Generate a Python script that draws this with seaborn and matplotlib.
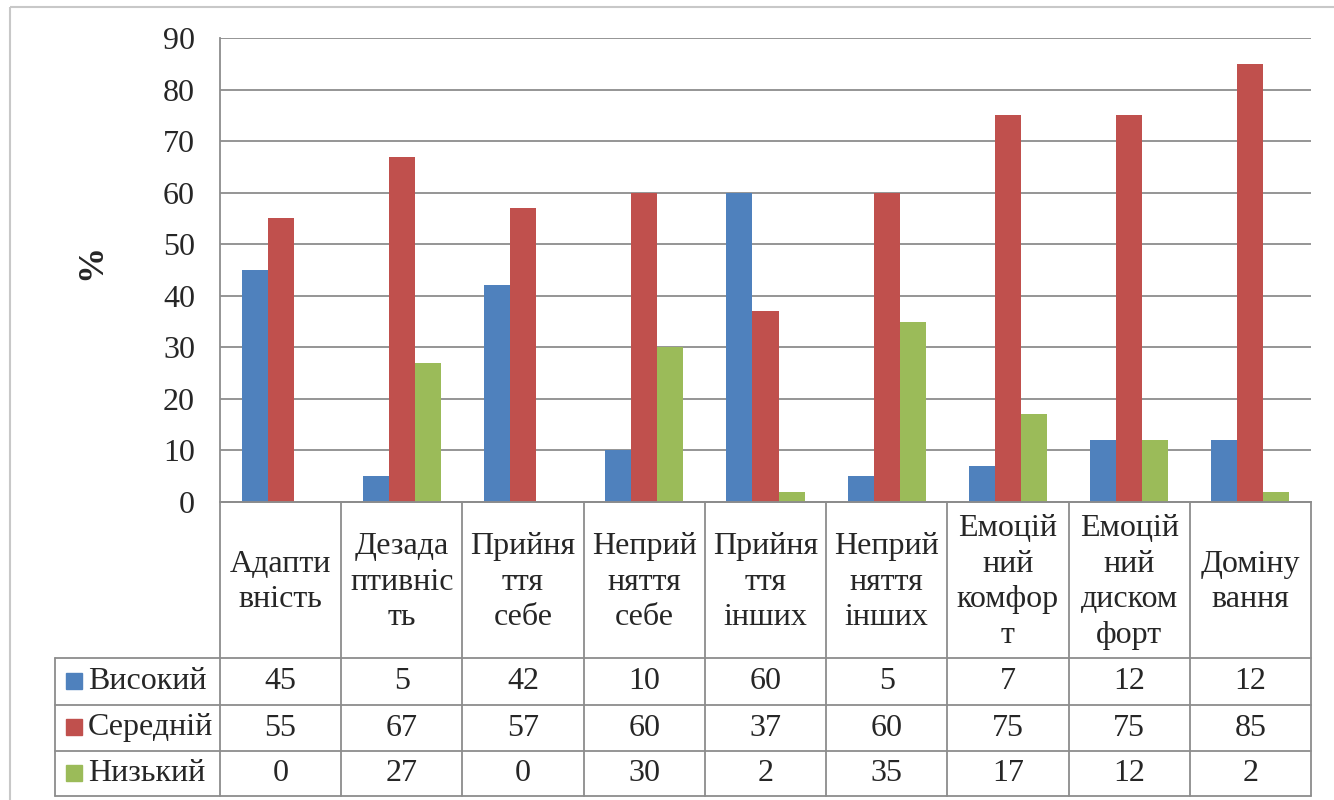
import matplotlib
matplotlib.use("Agg")
import matplotlib.pyplot as plt
import seaborn as sns
import pandas as pd
from matplotlib.patches import Rectangle

categories = ["Адапти\nвність", "Дезада\nптивніс\nть", "Прийня\nття\nсебе", "Неприй\nняття\nсебе",
              "Прийня\nття\nінших", "Неприй\nняття\nінших", "Емоцій\nний\nкомфор\nт",
              "Емоцій\nний\nдиском\nфорт", "Доміну\nвання"]
series_names = ["Високий", "Середній", "Низький"]
high = [45, 5, 42, 10, 60, 5, 7, 12, 12]
mid = [55, 67, 57, 60, 37, 60, 75, 75, 85]
low = [0, 27, 0, 30, 2, 35, 17, 12, 2]
colors = ["#4F81BD", "#C0504D", "#9BBB59"]
yticks = [0, 10, 20, 30, 40, 50, 60, 70, 80, 90]

sns.set_theme(style="white")
plt.rcParams['font.family'] = ['Liberation Serif', 'DejaVu Serif']

W, H = 1334, 800
fig = plt.figure(figsize=(W / 100, H / 100), dpi=100)

# layout (pixels)
L, R, T, B = 220, 1311, 38, 502
legL = 55
rows_y = [658, 705, 751, 796]
FS = 23
lc = "#8c8c8c"

# background axes for border + table
bg = fig.add_axes([0, 0, 1, 1])
bg.set_xlim(0, W)
bg.set_ylim(H, 0)
bg.axis("off")
bg.add_patch(Rectangle((10, 7), 1400, 900, fill=False, edgecolor="#c8c8c8", lw=1.5))

ax = fig.add_axes([L / W, 1 - B / H, (R - L) / W, (B - T) / H])
rows = []
for name, vals in zip(series_names, [high, mid, low]):
    for c, v in zip(categories, vals):
        rows.append({"cat": c, "level": name, "val": v})
df = pd.DataFrame(rows)
sns.barplot(data=df, x="cat", y="val", hue="level", palette=colors, width=0.645, gap=0,
            ax=ax, legend=False, saturation=1, edgecolor="none")
ax.set_ylim(0, 90)
ax.set_xlim(-0.5, len(categories) - 0.5)
ax.set_yticks(yticks)
ax.set_yticklabels([str(t) for t in yticks], fontsize=FS)
ax.tick_params(axis="y", length=0, pad=18)
ax.set_xticks([])
ax.set_xlabel("")
ax.set_ylabel("")
ax.yaxis.grid(True, color=lc, lw=1.3)
ax.set_axisbelow(True)
for s in ["top", "right"]:
    ax.spines[s].set_visible(False)
ax.spines["left"].set_color(lc)
ax.spines["bottom"].set_color(lc)
ax.spines["left"].set_linewidth(1.3)
ax.spines["bottom"].set_linewidth(1.3)
ax.patch.set_alpha(0)

fig.text(92 / W, 1 - 262 / H, "%", rotation=90, fontsize=26, fontweight="bold",
         ha="center", va="center")

# data table
n = len(categories)
cw = (R - L) / n
xs = [L + i * cw for i in range(n + 1)]
lw = 1.3
for x in xs:
    bg.plot([x, x], [B, rows_y[-1]], color=lc, lw=lw)
bg.plot([legL, legL], [rows_y[0], rows_y[-1]], color=lc, lw=lw)
for y in rows_y:
    bg.plot([legL, R], [y, y], color=lc, lw=lw)
bg.plot([L, R], [B, B], color=lc, lw=lw)

for i, c in enumerate(categories):
    bg.text(xs[i] + cw / 2, (B + rows_y[0]) / 2 + 2, c, ha="center", va="center",
            fontsize=FS, linespacing=1.3)

for r, (name, vals, col) in enumerate(zip(series_names, [high, mid, low], colors)):
    yc = (rows_y[r] + rows_y[r + 1]) / 2
    bg.add_patch(Rectangle((66, yc - 9), 16, 16, color=col))
    bg.text(88, yc, name, ha="left", va="center", fontsize=FS)
    for i, v in enumerate(vals):
        bg.text(xs[i] + cw / 2, yc, str(v), ha="center", va="center", fontsize=FS)

fig.savefig("out.png", dpi=100)
